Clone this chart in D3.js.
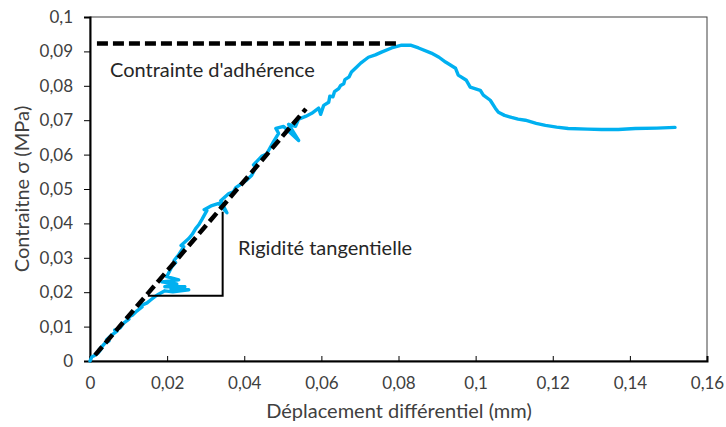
<!DOCTYPE html>
<html><head><meta charset="utf-8">
<script src="https://cdn.jsdelivr.net/npm/d3@7"></script>
<style>body{margin:0;background:#fff}svg{display:block}</style>
</head><body>
<svg id="c" width="726" height="427"></svg>
<script>
// Data: displacement (mm) and stress (MPa)
const dispX = [0,0.0005,0.0013,0.0021,0.0031,0.0023,0.0039,0.0049,0.0043,0.0057,0.0070,0.0064,0.0078,0.0088,0.0101,0.0096,0.0111,0.0122,0.0135,0.0130,0.0148,0.0158,0.0168,0.0179,0.0194,0.0215,0.0256,0.0210,0.0246,0.0194,0.0225,0.0186,0.0230,0.0199,0.0212,0.0222,0.0218,0.0230,0.0243,0.0236,0.0256,0.0265,0.0274,0.0282,0.0290,0.0303,0.0296,0.0316,0.0334,0.0355,0.0339,0.0360,0.0372,0.0378,0.0394,0.0405,0.0419,0.0430,0.0424,0.0445,0.0458,0.0463,0.0476,0.0489,0.0482,0.0502,0.0541,0.0515,0.0533,0.0541,0.0559,0.0575,0.0593,0.0598,0.0606,0.0619,0.0622,0.0630,0.0634,0.0645,0.0650,0.0658,0.0661,0.0672,0.0678,0.0691,0.0702,0.0722,0.0740,0.0756,0.0782,0.0808,0.0831,0.0852,0.0885,0.0905,0.0922,0.0948,0.0955,0.0976,0.0986,0.1012,0.1020,0.1038,0.1051,0.1059,0.1075,0.1093,0.1110,0.1129,0.1157,0.1181,0.1210,0.1240,0.1290,0.1326,0.1370,0.1414,0.1470,0.1517];
const stressY = [0,0.0012,0.0017,0.0023,0.0038,0.0032,0.0052,0.0058,0.0062,0.0076,0.0087,0.0090,0.0096,0.0111,0.0122,0.0126,0.0134,0.0146,0.0157,0.0160,0.0169,0.0178,0.0187,0.0195,0.0204,0.0201,0.0207,0.0210,0.0216,0.0216,0.0224,0.0230,0.0236,0.0245,0.0274,0.0286,0.0292,0.0309,0.0332,0.0336,0.0356,0.0368,0.0385,0.0396,0.0411,0.0437,0.0440,0.0452,0.0458,0.0431,0.0466,0.0487,0.0492,0.0504,0.0516,0.0525,0.0539,0.0563,0.0570,0.0595,0.0602,0.0612,0.0638,0.0662,0.0676,0.0682,0.0641,0.0688,0.0682,0.0703,0.0711,0.0720,0.0735,0.0717,0.0743,0.0752,0.0770,0.0768,0.0783,0.0792,0.0801,0.0806,0.0818,0.0826,0.0840,0.0854,0.0866,0.0883,0.0890,0.0898,0.0910,0.0918,0.0918,0.0910,0.0895,0.0883,0.0869,0.0851,0.0831,0.0816,0.0796,0.0787,0.0773,0.0758,0.0735,0.0723,0.0714,0.0708,0.0703,0.0700,0.0691,0.0685,0.0680,0.0676,0.0674,0.0673,0.0673,0.0676,0.0677,0.0679];
const xTicks = [0,0.02,0.04,0.06,0.08,0.1,0.12,0.14,0.16];
const yTicks = [0,0.01,0.02,0.03,0.04,0.05,0.06,0.07,0.08,0.09,0.1];
// Annotation geometry in data units
const adhesionLine = [[0.0018,0.0923],[0.0804,0.0923]];
const stiffnessLine = [[0.0013,0.0017],[0.0560,0.0733]];
const stiffnessTriangle = [[0.0150,0.0190],[0.0344,0.0190],[0.0344,0.0434]];
const labels = {x:"Déplacement différentiel (mm)", y:"Contraitne σ (MPa)", adh:"Contrainte d'adhérence", rig:"Rigidité tangentielle"};

const svg = d3.select("#c");
const L=90,R=707,T=17,B=361;
const x = d3.scaleLinear().domain([0,0.16]).range([L,R]);
const y = d3.scaleLinear().domain([0,0.1]).range([B,T]);
const fmt = d => d3.format("~g")(d).replace(".",",");
const font = "Lato, 'Open Sans', sans-serif";

svg.append("rect").attr("x",L).attr("y",T).attr("width",R-L).attr("height",B-T)
  .attr("fill","none").attr("stroke","#404040").attr("stroke-width",1);

const ya = svg.append("g").attr("transform",`translate(${L},0)`)
  .call(d3.axisLeft(y).tickValues(yTicks).tickFormat(fmt).tickSize(6).tickPadding(11));
ya.select(".domain").attr("stroke","#000").attr("stroke-width",2);
ya.selectAll(".tick line").attr("stroke","#000");
ya.selectAll("text").attr("font-family",font).attr("font-size",17).attr("fill","#404040");

const xa = svg.append("g").attr("transform",`translate(0,${B})`)
  .call(d3.axisBottom(x).tickValues(xTicks).tickFormat(fmt).tickSize(-5).tickPadding(16));
xa.select(".domain").attr("stroke","#000").attr("stroke-width",2);
xa.selectAll(".tick line").attr("stroke","#000");
xa.selectAll("text").attr("font-family",font).attr("font-size",17).attr("fill","#404040");

const line = d3.line().x(d=>x(d[0])).y(d=>y(d[1]));
const pts = dispX.map((v,i)=>[v,stressY[i]]);
svg.append("path").datum(pts).attr("d",line).attr("fill","none")
  .attr("stroke","#00b0f0").attr("stroke-width",3.4).attr("stroke-linejoin","round").attr("stroke-linecap","round");

svg.append("path").datum(stiffnessTriangle).attr("d",line).attr("fill","none")
  .attr("stroke","#000").attr("stroke-width",2);
svg.append("path").datum(adhesionLine).attr("d",line).attr("fill","none")
  .attr("stroke","#000").attr("stroke-width",4.5).attr("stroke-dasharray","11,5");
svg.append("path").datum(stiffnessLine).attr("d",line).attr("fill","none")
  .attr("stroke","#000").attr("stroke-width",4.5).attr("stroke-dasharray","11,5");

svg.append("text").attr("x",110).attr("y",77).text(labels.adh)
  .attr("font-family",font).attr("font-size",20).attr("fill","#262626");
svg.append("text").attr("x",238).attr("y",255).text(labels.rig)
  .attr("font-family",font).attr("font-size",20).attr("fill","#262626");
svg.append("text").attr("x",399).attr("y",418).attr("text-anchor","middle").text(labels.x)
  .attr("font-family",font).attr("font-size",20).attr("fill","#404040");
svg.append("text").attr("transform",`translate(29,${(T+B)/2}) rotate(-90)`).attr("text-anchor","middle").text(labels.y)
  .attr("font-family",font).attr("font-size",20).attr("fill","#404040");
</script>
</body></html>
